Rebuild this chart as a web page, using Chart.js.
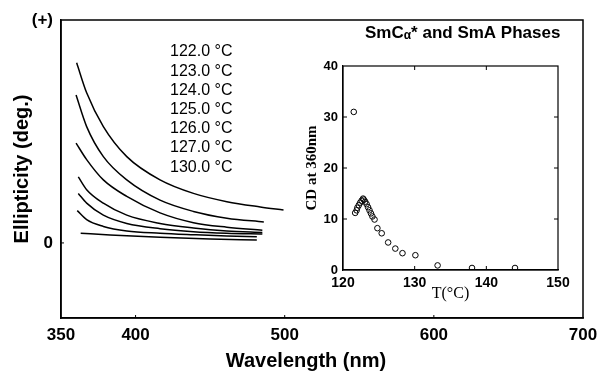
<!DOCTYPE html>
<html>
<head>
<meta charset="utf-8">
<script src="https://cdn.jsdelivr.net/npm/chart.js@4.4.1/dist/chart.umd.min.js"></script>
<style>
  html, body { margin: 0; padding: 0; background: #fff; }
  #wrap { position: relative; width: 597px; height: 371px; }
  #main { position: absolute; left: 0; top: 0; }
  #inset { position: absolute; left: 290px; top: 60px; }
</style>
</head>
<body>
<div id="wrap">
  <canvas id="main" width="597" height="371" style="width:597px;height:371px"></canvas>
  <canvas id="inset" width="290" height="250" style="width:290px;height:250px"></canvas>
</div>
<script>
// CD spectra of the SmCα* / SmA phases, plus inset of CD at 360 nm vs T.

const SANS = "'Liberation Sans', Arial, Helvetica, sans-serif";
const SERIF = "'Liberation Serif', 'Times New Roman', serif";

// --- Data: main panel (wavelength nm, ellipticity in arbitrary units) ---
const temps = ["122.0", "123.0", "124.0", "125.0", "126.0", "127.0", "130.0"];

const wl122 = [360.5, 367.2, 378.4, 394.1, 416.4, 438.8, 461.2, 483.6, 499.2];
const el122 = [2.40, 2.00, 1.55, 1.15, 0.84, 0.66, 0.55, 0.48, 0.44];

const wl123 = [360.1, 367.2, 378.4, 394.1, 416.4, 438.8, 461.2, 486.0];
const el123 = [1.97, 1.55, 1.15, 0.84, 0.57, 0.42, 0.33, 0.28];

const wl124 = [360.1, 367.2, 378.4, 394.1, 416.4, 438.8, 461.2, 485.0];
const el124 = [1.33, 1.11, 0.84, 0.62, 0.40, 0.27, 0.21, 0.17];

const wl125 = [361.6, 367.2, 378.4, 394.1, 416.4, 438.8, 461.2, 485.0];
const el125 = [0.88, 0.71, 0.53, 0.37, 0.26, 0.20, 0.16, 0.14];

const wl126 = [361.6, 367.2, 378.4, 394.1, 416.4, 438.8, 461.2, 485.0];
const el126 = [0.66, 0.53, 0.37, 0.26, 0.19, 0.15, 0.13, 0.12];

const wl127 = [360.9, 367.2, 378.4, 394.1, 416.4, 438.8, 461.2, 481.3];
const el127 = [0.43, 0.31, 0.22, 0.16, 0.13, 0.11, 0.093, 0.084];

const wl130 = [363.2, 382.9, 416.4, 450.0, 481.3];
const el130 = [0.13, 0.107, 0.076, 0.053, 0.04];

const wlTicks = [350, 400, 500, 600, 700];

// --- Data: inset (T in °C, CD at 360 nm) ---
const insetT  = [121.5, 121.7, 121.9, 122.0, 122.2, 122.4, 122.6, 122.8,
                 122.9, 123.1, 123.3, 123.5, 123.7, 123.9, 124.1, 124.4,
                 124.8, 125.4, 126.3, 127.3, 128.3, 130.1, 133.2, 138.0, 144.0];
const insetCD = [31.0, 11.2, 11.7, 12.2, 12.7, 13.2, 13.6, 14.0,
                 13.8, 13.4, 12.9, 12.3, 11.7, 11.1, 10.5, 9.9,
                 8.2, 7.2, 5.4, 4.2, 3.3, 2.9, 0.9, 0.4, 0.4];

// --- Helpers ---
function zip(xs, ys) {
  return xs.map((x, i) => ({ x: x, y: ys[i] }));
}

// box around the plot area + short inward tick marks at the scale ticks
const framePlugin = {
  id: "frame",
  afterDraw(chart, args, opts) {
    const { ctx, chartArea: a, scales } = chart;
    const len = opts.tickLen || 4;
    ctx.save();
    ctx.strokeStyle = "#000";
    ctx.lineWidth = opts.width || 1.5;
    ctx.strokeRect(a.left, a.top, a.right - a.left, a.bottom - a.top);

    ctx.lineWidth = 1;
    ctx.beginPath();
    scales.x.ticks.forEach((t) => {
      const px = scales.x.getPixelForValue(t.value);
      if (px <= a.left + 1 || px >= a.right - 1) return;
      ctx.moveTo(px, a.bottom);
      ctx.lineTo(px, a.bottom - len);
      if (opts.allSides) {
        ctx.moveTo(px, a.top);
        ctx.lineTo(px, a.top + len);
      }
    });
    scales.y.ticks.forEach((t) => {
      const py = scales.y.getPixelForValue(t.value);
      if (py <= a.top + 1 || py >= a.bottom - 1) return;
      ctx.moveTo(a.left, py);
      ctx.lineTo(a.left + len, py);
      if (opts.allSides) {
        ctx.moveTo(a.right, py);
        ctx.lineTo(a.right - len, py);
      }
    });
    ctx.stroke();
    ctx.restore();
  },
};

// free-standing texts of the main panel
const mainTexts = {
  id: "mainTexts",
  afterDraw(chart) {
    const ctx = chart.ctx;
    ctx.save();
    ctx.fillStyle = "#000";
    ctx.textBaseline = "middle";
    ctx.textAlign = "left";
    ctx.font = "16px " + SANS;
    temps.forEach((t, i) => {
      ctx.fillText(t + " °C", 170, 52 + 19.2 * i);
    });

    // phase title, with α as a subscript
    ctx.font = "bold 17px " + SANS;
    let x = 365;
    ctx.fillText("SmC", x, 33);
    x += ctx.measureText("SmC").width;
    ctx.font = "bold 12px " + SANS;
    ctx.fillText("α", x, 36);
    x += ctx.measureText("α").width;
    ctx.font = "bold 17px " + SANS;
    ctx.fillText("* and SmA Phases", x, 33);

    ctx.textAlign = "center";
    ctx.textBaseline = "alphabetic";
    ctx.font = "bold 20px " + SANS;
    ctx.fillText("Wavelength (nm)", 306, 367);
    ctx.restore();
  },
};

const curves = [
  [wl122, el122], [wl123, el123], [wl124, el124], [wl125, el125],
  [wl126, el126], [wl127, el127], [wl130, el130],
];

new Chart(document.getElementById("main"), {
  type: "line",
  data: {
    datasets: curves.map((c, i) => ({
      label: temps[i] + " °C",
      data: zip(c[0], c[1]),
      borderColor: "#000",
      borderWidth: 1.5,
      pointRadius: 0,
      fill: false,
      cubicInterpolationMode: "monotone",
    })),
  },
  options: {
    responsive: false,
    animation: false,
    devicePixelRatio: 1,
    layout: { padding: { left: 0, top: 20, right: 14, bottom: 0 } },
    plugins: {
      legend: { display: false },
      tooltip: { enabled: false },
      frame: { width: 1.5, tickLen: 3, allSides: false },
    },
    scales: {
      x: {
        type: "linear",
        min: 350,
        max: 700,
        afterBuildTicks: (s) => { s.ticks = wlTicks.map((v) => ({ value: v })); },
        afterFit: (s) => { s.height = 53; s.paddingLeft = 0; s.paddingRight = 0; },
        grid: { display: false, drawTicks: false },
        border: { display: true, color: "#000", width: 1.5 },
        ticks: {
          color: "#000",
          padding: 7,
          maxRotation: 0,
          autoSkip: false,
          font: { family: SANS, size: 17, weight: "bold" },
        },
      },
      y: {
        min: -1,
        max: 2.97,
        afterBuildTicks: (s) => { s.ticks = [{ value: 0 }, { value: 2.97 }]; },
        afterFit: (s) => { s.width = 61; s.paddingTop = 0; s.paddingBottom = 0; },
        grid: { display: false, drawTicks: false },
        border: { display: true, color: "#000", width: 1.5 },
        ticks: {
          color: "#000",
          padding: 8,
          callback: (v) => (v === 0 ? "0" : "(+)"),
          font: { family: SANS, size: 17, weight: "bold" },
        },
        title: {
          display: true,
          text: "Ellipticity (deg.)",
          color: "#000",
          padding: { top: 10, bottom: 0 },
          font: { family: SANS, size: 20, weight: "bold" },
        },
      },
    },
  },
  plugins: [framePlugin, mainTexts],
});

// --- Inset ---
new Chart(document.getElementById("inset"), {
  type: "scatter",
  data: {
    datasets: [{
      label: "CD at 360nm",
      data: zip(insetT, insetCD),
      pointStyle: "circle",
      pointRadius: 2.8,
      borderWidth: 1,
      borderColor: "#000",
      backgroundColor: "rgba(255,255,255,0)",
      showLine: false,
    }],
  },
  options: {
    responsive: false,
    animation: false,
    devicePixelRatio: 1,
    layout: { padding: { left: 0, top: 6, right: 22, bottom: 0 } },
    plugins: {
      legend: { display: false },
      tooltip: { enabled: false },
      frame: { width: 1.2, tickLen: 4, allSides: true },
    },
    scales: {
      x: {
        type: "linear",
        min: 120,
        max: 150,
        afterFit: (s) => { s.height = 40; s.paddingLeft = 0; s.paddingRight = 0; },
        grid: { display: false, drawTicks: false },
        border: { display: true, color: "#000", width: 1.2 },
        ticks: {
          stepSize: 10,
          color: "#000",
          padding: 5,
          maxRotation: 0,
          font: { family: SANS, size: 14, weight: "bold" },
        },
        title: {
          display: true,
          text: "T(°C)",
          color: "#000",
          padding: { top: 0, bottom: 7 },
          font: { family: SERIF, size: 16 },
        },
      },
      y: {
        min: 0,
        max: 40,
        afterFit: (s) => { s.width = 53; s.paddingTop = 0; s.paddingBottom = 0; },
        grid: { display: false, drawTicks: false },
        border: { display: true, color: "#000", width: 1.2 },
        ticks: {
          stepSize: 10,
          color: "#000",
          padding: 5,
          font: { family: SANS, size: 13, weight: "bold" },
        },
        title: {
          display: true,
          text: "CD at 360nm",
          color: "#000",
          padding: { top: 13, bottom: 0 },
          font: { family: SERIF, size: 15, weight: "bold" },
        },
      },
    },
  },
  plugins: [framePlugin],
});
</script>
</body>
</html>
